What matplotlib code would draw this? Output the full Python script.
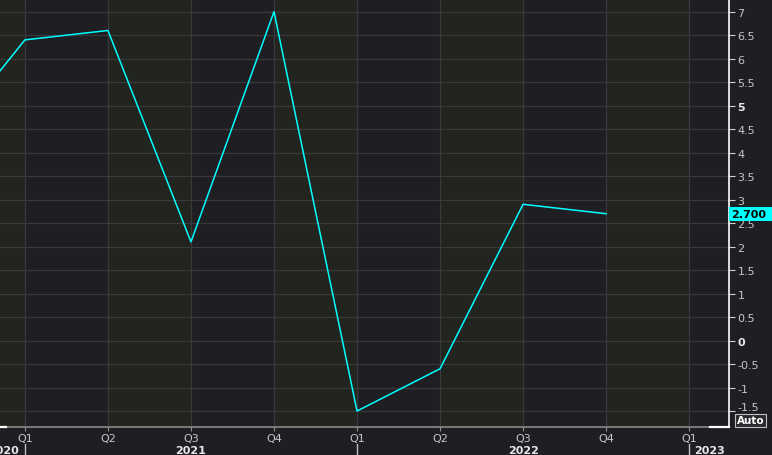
import matplotlib.pyplot as plt
import matplotlib.transforms as mtransforms
from matplotlib.patches import Rectangle
import numpy as np

# quarterly values, Q4 2020 .. Q4 2022 (index 0 = Q1 2021)
quarter_idx = [-1, 0, 1, 2, 3, 4, 5, 6, 7]
values = [4.2, 6.4, 6.6, 2.1, 7.0, -1.5, -0.6, 2.9, 2.7]
last_value = 2.7

tick_quarters = [0, 1, 2, 3, 4, 5, 6, 7, 8]
tick_labels = ['Q1', 'Q2', 'Q3', 'Q4', 'Q1', 'Q2', 'Q3', 'Q4', 'Q1']
year_names = ['2020', '2021', '2022', '2023']
year_starts = [-4, 0, 4, 8]

y_ticks = np.arange(-1.5, 7.01, 0.5)

BG = '#1f1e22'
BAND_A = '#22241f'
BAND_B = '#1f1e22'
GRID = '#38393a'
TXT = '#c8c8c8'
CYAN = '#00ffff'

x_min, x_max = -0.30, 8.48
y_min, y_max = -1.84, 7.27

fig = plt.figure(figsize=(7.72, 4.56), dpi=100, facecolor=BG)
ax = fig.add_axes([0, 28 / 456, 729 / 772, 428 / 456])
ax.set_facecolor(BAND_A)

# alternating quarter bands
for q in range(-1, 9):
    col = BAND_B if q % 2 == 0 else BAND_A
    ax.axvspan(q, q + 1, color=col, lw=0, zorder=0)

ax.plot(quarter_idx, values, color=CYAN, lw=1.1, zorder=3)

ax.set_xlim(x_min, x_max)
ax.set_ylim(y_min, y_max)

ax.set_yticks(y_ticks)
ax.set_xticks(tick_quarters)
ax.grid(True, color=GRID, lw=0.9, zorder=1)
ax.set_axisbelow(True)

ax.yaxis.tick_right()
ax.tick_params(axis='y', direction='out', length=4, color='#d0d0d0', labelcolor=TXT,
               labelsize=8, pad=2)
ax.tick_params(axis='x', direction='out', length=3, color='#909090', labelcolor=TXT,
               labelsize=8, pad=1)
ax.set_xticklabels(tick_labels)

ax.set_yticklabels(['%g' % v for v in y_ticks])
for lab, v in zip(ax.get_yticklabels(), y_ticks):
    if v in (0, 5):
        lab.set_fontweight('bold')
        lab.set_color('#e8e8e8')
    if v == -1.5:
        # nudged up, clear of the Auto box
        lab.set_transform(lab.get_transform() + mtransforms.ScaledTranslation(0, 5 / 100, fig.dpi_scale_trans))

for s in ['top', 'left']:
    ax.spines[s].set_visible(False)
ax.spines['right'].set_color('white')
ax.spines['right'].set_linewidth(1.2)
ax.spines['bottom'].set_color('#8a8a8a')
ax.spines['bottom'].set_linewidth(1.2)

trans = mtransforms.blended_transform_factory(ax.transData, ax.transAxes)
# white ends of the time axis
ax.plot([8.25, x_max], [0, 0], transform=trans, color='white', lw=1.6, clip_on=False, zorder=5)
ax.plot([x_min, x_min + 0.07], [0, 0], transform=trans, color='white', lw=1.6, clip_on=False, zorder=5)

# year separators and labels
for name, start in zip(year_names, year_starts):
    lo = max(start, x_min)
    hi = min(start + 4, x_max)
    if start >= x_min:
        ax.plot([start, start], [-0.04, -0.07], transform=trans, color='#c0c0c0',
                lw=1, clip_on=False)
    cx = (lo + hi) / 2
    if name == '2020':
        cx = x_min + 0.045
    ax.text(cx, -0.053, name, transform=trans, ha='center', va='center',
            color='#e8e8e8', fontsize=8, fontweight='bold', clip_on=False)

# last value tag
ty = 1 - (341.5 - 47 * last_value) / 456
fig.add_artist(Rectangle((729 / 772, ty - 7 / 456), 43 / 772, 14 / 456,
                         transform=fig.transFigure, facecolor=CYAN, edgecolor='none'))
fig.text(731 / 772, ty, '%.3f' % last_value, ha='left', va='center', color='black',
         fontsize=8, fontweight='bold')

fig.text(750.5 / 772, 1 - 421.5 / 456, 'Auto', ha='center', va='center', color='white',
         fontsize=7.5, fontweight='bold',
         bbox=dict(boxstyle='square,pad=0.12', facecolor='#2a2a2e', edgecolor='#c0c0c0', lw=0.8))

fig.savefig('out.png', dpi=100, facecolor=BG)
